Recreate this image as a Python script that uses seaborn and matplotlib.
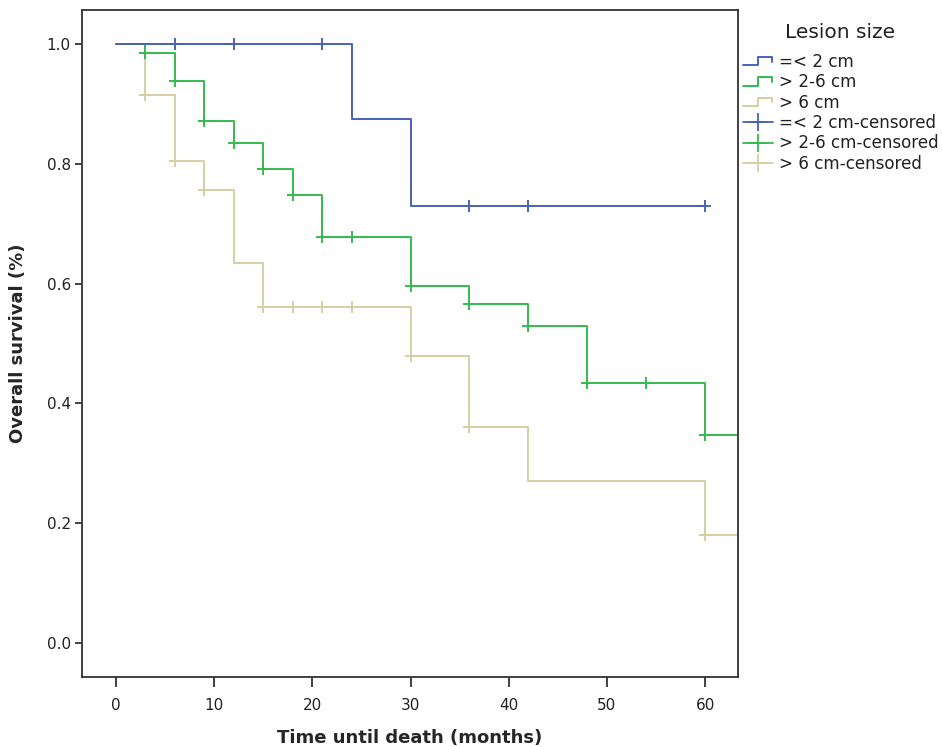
import matplotlib
matplotlib.use("Agg")
import matplotlib.pyplot as plt
import seaborn as sns
import pandas as pd
from matplotlib.lines import Line2D
from matplotlib.legend_handler import HandlerBase

# ---- data ----
groups = ["=< 2 cm", "> 2-6 cm", "> 6 cm"]

small_t = [0, 24, 30, 60]
small_s = [1.0, 0.875, 0.729, 0.729]
small_cens_t = [6, 12, 21, 36, 42, 60]
small_cens_s = [1.0, 1.0, 1.0, 0.729, 0.729, 0.729]

mid_t = [0, 3, 6, 9, 12, 15, 18, 21, 30, 36, 42, 48, 60, 64]
mid_s = [1.0, 0.985, 0.938, 0.871, 0.834, 0.792, 0.748, 0.678, 0.596, 0.566, 0.530, 0.434, 0.347, 0.347]
mid_cens_t = [3, 6, 9, 12, 15, 18, 21, 24, 30, 36, 42, 48, 54, 60]
mid_cens_s = [0.985, 0.938, 0.871, 0.834, 0.792, 0.748, 0.678, 0.678, 0.596, 0.566, 0.530, 0.434, 0.434, 0.347]

large_t = [0, 3, 6, 9, 12, 15, 30, 36, 42, 60, 64]
large_s = [1.0, 0.915, 0.804, 0.756, 0.634, 0.561, 0.480, 0.360, 0.270, 0.180, 0.180]
large_cens_t = [3, 6, 9, 15, 18, 21, 24, 30, 36, 60]
large_cens_s = [0.915, 0.804, 0.756, 0.561, 0.561, 0.561, 0.561, 0.480, 0.360, 0.180]

colors = ["#4862B8", "#35BB50", "#D6CFA2"]

x_ticks = [0, 10, 20, 30, 40, 50, 60]
y_ticks = [0.0, 0.2, 0.4, 0.6, 0.8, 1.0]

# ---- tables ----
curves = pd.concat([
    pd.DataFrame({"t": small_t, "s": small_s, "g": groups[0]}),
    pd.DataFrame({"t": mid_t, "s": mid_s, "g": groups[1]}),
    pd.DataFrame({"t": large_t, "s": large_s, "g": groups[2]}),
], ignore_index=True)
cens = pd.concat([
    pd.DataFrame({"t": small_cens_t, "s": small_cens_s, "g": groups[0]}),
    pd.DataFrame({"t": mid_cens_t, "s": mid_cens_s, "g": groups[1]}),
    pd.DataFrame({"t": large_cens_t, "s": large_cens_s, "g": groups[2]}),
], ignore_index=True)

sns.set_style("ticks")
plt.rcParams["font.family"] = ["DejaVu Sans"]

fig = plt.figure(figsize=(9.42, 7.47), dpi=100)
ax = fig.add_axes([0.087, 0.094, 0.696, 0.893])

palette = dict(zip(groups, colors))
for g in groups[::-1]:
    sub = curves[curves["g"] == g]
    sns.lineplot(data=sub, x="t", y="s", color=palette[g], drawstyle="steps-post",
                 estimator=None, sort=False, lw=1.4, ax=ax, legend=False)
for g in groups[::-1]:
    sub = cens[cens["g"] == g]
    sns.scatterplot(data=sub, x="t", y="s", color=palette[g], marker="+", s=75,
                    linewidth=1.4, ax=ax, legend=False, zorder=3)

ax.set_xlim(-3.45, 63.3)
ax.set_ylim(-0.056, 1.057)
ax.set_xticks(x_ticks)
ax.set_yticks(y_ticks)
ax.set_yticklabels([f"{v:.1f}" for v in y_ticks])
ax.tick_params(axis="x", length=7, width=1.2, labelsize=11, pad=8, colors="#222222")
ax.tick_params(axis="y", length=5, width=1.2, labelsize=11, pad=3, colors="#222222")
for sp in ax.spines.values():
    sp.set_visible(True)
    sp.set_linewidth(1.3)
    sp.set_color("#333333")
ax.set_xlabel("Time until death (months)", fontsize=13, fontweight="bold", labelpad=12)
ax.set_ylabel("Overall survival (%)", fontsize=13, fontweight="bold", labelpad=14)


class HandlerStep(HandlerBase):
    def create_artists(self, legend, orig_handle, xdescent, ydescent, width, height, fontsize, trans):
        x0 = -xdescent
        y0 = -ydescent
        xs = [x0, x0 + width * 0.5, x0 + width * 0.5, x0 + width * 0.95, x0 + width * 0.95]
        ys = [y0 + height * 0.15, y0 + height * 0.15, y0 + height * 0.85, y0 + height * 0.85, y0 + height * 0.45]
        ln = Line2D(xs, ys, color=orig_handle.get_color(), lw=1.4, transform=trans)
        return [ln]


step_handles = [Line2D([], [], color=c) for c in colors]
cens_handles = [Line2D([], [], color=c, marker="+", markersize=13, mew=1.3, lw=1.3) for c in colors]
labels = groups + [g + "-censored" for g in groups]
handler_map = {h: HandlerStep() for h in step_handles}
fig.text(0.892, 0.956, "Lesion size", ha="center", va="center", fontsize=14.5, color="#222222")
leg = fig.legend(step_handles + cens_handles, labels, handler_map=handler_map,
                 loc="upper left", bbox_to_anchor=(0.789, 0.929), frameon=False,
                 fontsize=12.1, handlelength=1.8, handletextpad=0.3, labelspacing=0.14,
                 borderaxespad=0, borderpad=0)
for t in leg.get_texts():
    t.set_color("#222222")

fig.savefig("out.png", dpi=100)
